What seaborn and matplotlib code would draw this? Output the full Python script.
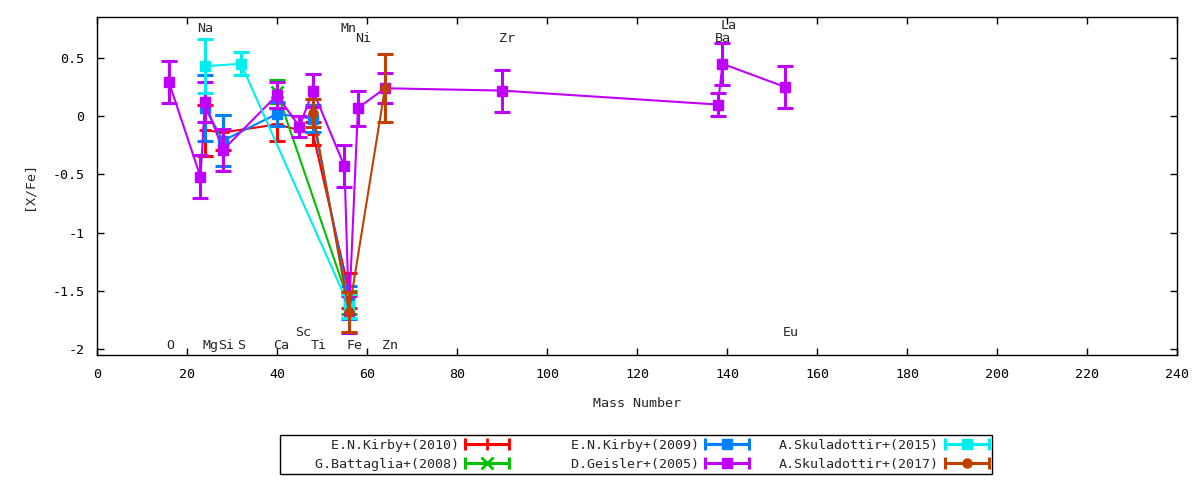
import numpy as np
import matplotlib
matplotlib.use('Agg')
import matplotlib.pyplot as plt
import seaborn as sns
from matplotlib.lines import Line2D
from matplotlib.legend_handler import HandlerBase
from matplotlib.ticker import FuncFormatter, MultipleLocator

# [X/Fe] per mass number
kirby10_mass = [24, 28, 40, 48, 56]
kirby10_xfe = [-0.12, -0.14, -0.07, -0.15, -1.50]
kirby10_err = [0.22, 0.15, 0.14, 0.10, 0.15]

battaglia08_mass = [40, 56]
battaglia08_xfe = [0.21, -1.60]
battaglia08_err = [0.10, 0.10]

kirby09_mass = [24, 28, 40, 48, 56]
kirby09_xfe = [0.07, -0.21, 0.02, -0.02, -1.60]
kirby09_err = [0.28, 0.22, 0.10, 0.12, 0.14]

geisler05_mass = [16, 23, 24, 28, 40, 45, 48, 55, 56, 58, 64, 90, 138, 139, 153]
geisler05_xfe = [0.29, -0.52, 0.12, -0.29, 0.18, -0.09, 0.22, -0.43, -1.70,
                 0.07, 0.24, 0.22, 0.10, 0.45, 0.25]
geisler05_err = [0.18, 0.185, 0.17, 0.18, 0.11, 0.09, 0.14, 0.18, 0.16,
                 0.15, 0.13, 0.18, 0.10, 0.18, 0.18]

skul15_mass = [24, 32, 56]
skul15_xfe = [0.43, 0.45, -1.63]
skul15_err = [0.23, 0.10, 0.10]

skul17_mass = [48, 56, 64]
skul17_xfe = [0.03, -1.68, 0.24]
skul17_err = [0.12, 0.17, 0.29]

# element labels
elem_names = ['O', 'Na', 'Mg', 'Si', 'S', 'Ca', 'Sc', 'Ti', 'Mn', 'Fe', 'Ni',
              'Zn', 'Zr', 'Ba', 'La', 'Eu']
elem_x = [16.2, 24.1, 25.2, 28.8, 32.1, 41.0, 45.9, 49.3, 55.9, 57.2, 59.1,
          65.2, 91.2, 139.0, 140.3, 154.1]
elem_y = [-2.0, 0.726, -2.0, -2.0, -2.0, -2.0, -1.888, -2.0, 0.726, -2.0, 0.64,
          -2.0, 0.64, 0.64, 0.745, -1.888]

series = [
    ('E.N.Kirby+(2010)', kirby10_mass, kirby10_xfe, kirby10_err, '#ff0000', '+'),
    ('G.Battaglia+(2008)', battaglia08_mass, battaglia08_xfe, battaglia08_err, '#00c000', 'x'),
    ('E.N.Kirby+(2009)', kirby09_mass, kirby09_xfe, kirby09_err, '#0080ff', 's'),
    ('D.Geisler+(2005)', geisler05_mass, geisler05_xfe, geisler05_err, '#c000ff', 's'),
    ('A.Skuladottir+(2015)', skul15_mass, skul15_xfe, skul15_err, '#00eeee', 's'),
    ('A.Skuladottir+(2017)', skul17_mass, skul17_xfe, skul17_err, '#c04000', 'o'),
]


class GnuplotErrHandler(HandlerBase):
    """legend sample like gnuplot: |--o--|"""
    def create_artists(self, legend, orig_handle, xdescent, ydescent,
                       width, height, fontsize, trans):
        c = orig_handle.get_color()
        x0, x1 = -xdescent, width - xdescent
        y = (height - ydescent) / 2.0
        line = Line2D([x0, x1], [y, y], color=c, lw=2.2)
        caps = Line2D([x0, x1], [y, y], ls='none', marker='|', ms=8,
                      mew=2.2, color=c)
        mark = Line2D([(x0 + x1) / 2], [y], ls='none',
                      marker=orig_handle.get_marker(),
                      ms=orig_handle.get_markersize(),
                      mew=orig_handle.get_markeredgewidth(), color=c)
        for a in (line, caps, mark):
            a.set_transform(trans)
        return [line, caps, mark]


sns.set_style('ticks')
plt.rcParams['font.family'] = ['DejaVu Sans Mono']
plt.rcParams['font.size'] = 9.6
plt.rcParams['axes.unicode_minus'] = False

fig = plt.figure(figsize=(12, 4.8), dpi=100)
ax = fig.add_axes([0.0808, 0.2604, 0.9, 0.7042])

handles = []
for i, (name, m, v, e, c, mk) in enumerate(series):
    mew = 2.0 if mk in '+x' else 1.0
    ms = 8 if mk in '+x' else 6.5
    sns.lineplot(x=m, y=v, sort=False, estimator=None, errorbar=None,
                 color=c, marker=mk, markersize=ms, markeredgecolor=c,
                 markeredgewidth=mew, linewidth=1.5, zorder=3 + i, ax=ax)
    ax.errorbar(m, v, yerr=e, fmt='none', ecolor=c, elinewidth=2.2,
                capsize=5.8, capthick=2.2, zorder=3 + i)
    handles.append(Line2D([], [], color=c, marker=mk, ms=ms, mew=mew))

for n, x, y in zip(elem_names, elem_x, elem_y):
    ax.text(x, y, n, ha='center', va='baseline', zorder=20)

ax.set_xlim(0, 240)
ax.set_ylim(-2.051, 0.852)
ax.xaxis.set_major_locator(MultipleLocator(20))
ax.yaxis.set_major_locator(MultipleLocator(0.5))
ax.yaxis.set_major_formatter(FuncFormatter(lambda v, p: '%g' % v))
ax.tick_params(direction='in', top=True, right=True, length=5, width=1,
               color='black', labelcolor='black')
ax.tick_params(axis='x', pad=9)
ax.tick_params(axis='y', pad=9)
for s in ax.spines.values():
    s.set_color('black')
    s.set_linewidth(1.0)
ax.set_xlabel('Mass Number', labelpad=12)
ax.set_ylabel('[X/Fe]', labelpad=12)

# gnuplot key: text right aligned in equal width columns
widths = [22, 22, 20, 20, 20, 20]
labels = [s[0].rjust(w) for s, w in zip(series, widths)]
leg = fig.legend(handles, labels, loc='center', bbox_to_anchor=(0.53, 0.0531),
                 ncol=3, markerfirst=False, handler_map={Line2D: GnuplotErrHandler()},
                 frameon=True, fancybox=False, edgecolor='black', framealpha=1,
                 handlelength=3.3, handletextpad=0.49, columnspacing=2.2,
                 borderpad=0.25, labelspacing=0.45)
leg.get_frame().set_linewidth(1.0)

plt.savefig('out.png', dpi=100)
plt.close()
